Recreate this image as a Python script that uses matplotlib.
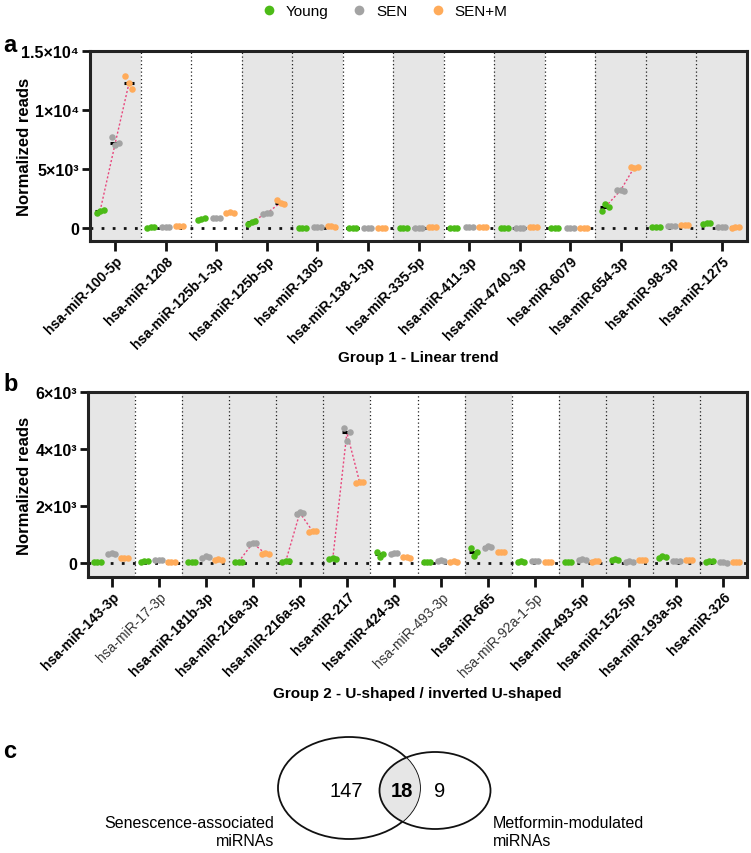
import numpy as np
import matplotlib
matplotlib.use("Agg")
import matplotlib.pyplot as plt
from matplotlib.lines import Line2D
from matplotlib.patches import Ellipse

plt.rcParams['font.family'] = ['Liberation Sans', 'DejaVu Sans']

# groups and colours
groups = ['Young', 'SEN', 'SEN+M']
group_colors = ['#4cbb17', '#a3a3a3', '#ffab5a']

# Panel a - Group 1 (linear trend), replicates per group (Young, SEN, SEN+M)
mirs_a = ['hsa-miR-100-5p', 'hsa-miR-1208', 'hsa-miR-125b-1-3p', 'hsa-miR-125b-5p',
          'hsa-miR-1305', 'hsa-miR-138-1-3p', 'hsa-miR-335-5p', 'hsa-miR-411-3p',
          'hsa-miR-4740-3p', 'hsa-miR-6079', 'hsa-miR-654-3p', 'hsa-miR-98-3p',
          'hsa-miR-1275']
young_a = [[1250, 1450, 1500], [40, 60, 50], [700, 800, 820], [350, 550, 600],
           [20, 30, 25], [15, 20, 25], [15, 20, 25], [30, 25, 35],
           [25, 20, 30], [10, 15, 12], [1450, 2050, 1800], [70, 90, 80],
           [380, 400, 420]]
sen_a = [[7700, 7000, 7200], [90, 110, 100], [860, 880, 850], [1200, 1300, 1250],
         [60, 80, 70], [30, 40, 35], [30, 35, 25], [50, 60, 45],
         [30, 35, 40], [20, 15, 25], [3200, 3250, 3150], [140, 160, 150],
         [90, 100, 80]]
senm_a = [[12850, 12250, 11800], [180, 200, 160], [1300, 1320, 1280], [2400, 2150, 2050],
          [130, 150, 120], [30, 35, 40], [60, 80, 70], [90, 110, 100],
          [70, 60, 80], [20, 25, 15], [5200, 5050, 5150], [240, 260, 220],
          [40, 50, 45]]
shaded_a = [1, 0, 0, 1, 1, 0, 1, 0, 1, 0, 1, 1, 1]
trend_a = [0, 3, 10]
bold_a = [1] * 13
yticks_a = [0, 5000, 10000, 15000]
yticklabels_a = ['0', '5×10³', '1×10⁴', '1.5×10⁴']

# Panel b - Group 2 (U-shaped / inverted U-shaped)
mirs_b = ['hsa-miR-143-3p', 'hsa-miR-17-3p', 'hsa-miR-181b-3p', 'hsa-miR-216a-3p',
          'hsa-miR-216a-5p', 'hsa-miR-217', 'hsa-miR-424-3p', 'hsa-miR-493-3p',
          'hsa-miR-665', 'hsa-miR-92a-1-5p', 'hsa-miR-493-5p', 'hsa-miR-152-5p',
          'hsa-miR-193a-5p', 'hsa-miR-326']
young_b = [[30, 40, 35], [50, 60, 55], [30, 35, 25], [40, 50, 45],
           [50, 60, 55], [140, 160, 150], [400, 200, 330], [40, 50, 45],
           [520, 250, 390], [50, 55, 45], [40, 50, 45], [100, 130, 115],
           [180, 230, 200], [50, 60, 55]]
sen_b = [[300, 350, 330], [90, 110, 100], [190, 230, 210], [680, 720, 700],
         [1730, 1780, 1760], [4740, 4270, 4580], [330, 350, 340], [80, 90, 85],
         [540, 580, 560], [60, 65, 55], [120, 130, 110], [50, 55, 45],
         [70, 80, 75], [20, 25, 15]]
senm_b = [[170, 190, 180], [40, 50, 45], [110, 130, 120], [320, 340, 330],
          [1100, 1130, 1120], [2820, 2860, 2840], [200, 210, 190], [45, 55, 50],
          [370, 390, 380], [30, 35, 25], [50, 60, 55], [90, 100, 95],
          [110, 120, 115], [40, 45, 35]]
shaded_b = [1, 0, 1, 1, 1, 1, 0, 0, 1, 0, 1, 1, 1, 1]
trend_b = [3, 4, 5]
bold_b = [1, 0, 1, 1, 1, 1, 1, 0, 1, 0, 1, 1, 1, 1]
yticks_b = [0, 2000, 4000, 6000]
yticklabels_b = ['0', '2×10³', '4×10³', '6×10³']

# Panel c - Venn counts
venn_counts = [147, 18, 9]
venn_labels = ['Senescence-associated\nmiRNAs', 'Metformin-modulated\nmiRNAs']

W, H = 751, 854
fig = plt.figure(figsize=(W / 100, H / 100), dpi=100)


def px_axes(left, top, right, bottom):
    return fig.add_axes([left / W, 1 - bottom / H, (right - left) / W, (bottom - top) / H])


def draw_panel(ax, mirs, young, sen, senm, shaded, trend, bold, ylim, yticks, yticklabels,
               xlabel, ylab_x, xlab_y):
    n = len(mirs)
    offs = [-0.3, 0.0, 0.27]
    jit = np.array([-0.07, 0.0, 0.07])
    for i in range(n):
        if shaded[i]:
            ax.axvspan(i - 0.5, i + 0.5, color='#e6e6e6', lw=0, zorder=0)
        if i > 0:
            ax.axvline(i - 0.5, color='#222222', lw=0.9, ls=(0, (1, 2)), zorder=1)
    ax.axhline(0, color='#111111', lw=2, ls=(0, (1, 3)), zorder=1)

    for i in range(n):
        data = [young[i], sen[i], senm[i]]
        meds = [np.median(d) for d in data]
        if i in trend:
            ax.plot([i + o for o in offs], meds, color='#e8467c', lw=1.0,
                    ls=(0, (1.5, 1.5)), zorder=2)
        for g, d in enumerate(data):
            x = i + offs[g]
            ax.plot([x - 0.1, x + 0.1], [meds[g]] * 2, color='black', lw=2.2,
                    solid_capstyle='butt', zorder=3)
            ax.scatter(x + jit, d, s=22, color=group_colors[g], lw=0, zorder=4)

    ax.set_xlim(-0.5, n - 0.5)
    ax.set_ylim(*ylim)
    ax.set_yticks(yticks)
    ax.set_yticklabels(yticklabels, fontsize=11.5, fontweight='bold')
    ax.set_xticks(range(n))
    ax.set_xticklabels(mirs, rotation=45, ha='right', va='top', rotation_mode='anchor',
                       fontsize=10)
    for lab, b in zip(ax.get_xticklabels(), bold):
        lab.set_fontweight('bold' if b else 'normal')
        if not b:
            lab.set_color('#333333')
    ax.tick_params(axis='both', direction='out', width=2, color='#111111')
    ax.tick_params(axis='x', length=7, pad=2)
    ax.tick_params(axis='y', length=6, pad=2)
    for sp in ax.spines.values():
        sp.set_linewidth(2.2)
        sp.set_color('#222222')
    ax.set_ylabel('Normalized reads', fontsize=12, fontweight='bold', va='center')
    ax.yaxis.set_label_coords(ylab_x, 0.5)
    ax.set_xlabel(xlabel, fontsize=11, fontweight='bold', va='center')
    ax.xaxis.set_label_coords(0.5, xlab_y)


ax_a = px_axes(90, 52, 747, 242)
draw_panel(ax_a, mirs_a, young_a, sen_a, senm_a, shaded_a, trend_a, bold_a,
           (-1100, 15000), yticks_a, yticklabels_a, 'Group 1 - Linear trend',
           (25 - 90) / 657, (242 - 358) / 190)

ax_b = px_axes(88, 393, 747, 578)
draw_panel(ax_b, mirs_b, young_b, sen_b, senm_b, shaded_b, trend_b, bold_b,
           (-490, 6000), yticks_b, yticklabels_b, 'Group 2 - U-shaped / inverted U-shaped',
           (25 - 88) / 659, (578 - 694) / 185)

# legend
handles = [Line2D([], [], marker='o', ls='', color=c, markersize=7, markeredgewidth=0)
           for c in group_colors]
fig.legend(handles, groups, loc='upper center', bbox_to_anchor=(0.507, 1.01), ncol=3,
           frameon=False, fontsize=11, handletextpad=0.1, columnspacing=1.0)

# overlay in pixel coordinates for letters and venn
ov = fig.add_axes([0, 0, 1, 1])
ov.set_xlim(0, W)
ov.set_ylim(H, 0)
ov.axis('off')

for letter, (x, y) in zip(['a', 'b', 'c'], [(3, 45), (3, 385), (3, 752)]):
    ov.text(x, y, letter, fontsize=17, fontweight='bold', ha='left', va='center')

left_e = Ellipse((349, 789), 142, 102, fill=False, ec='#111111', lw=1.3)
right_e = Ellipse((435, 791.5), 111, 77, fill=False, ec='#111111', lw=1.3)
lens = Ellipse((435, 791.5), 111, 77, fc='#e6e6e6', ec='none')
ov.add_patch(left_e)
ov.add_patch(lens)
lens.set_clip_path(left_e)
ov.add_patch(right_e)

ov.text(346, 792, str(venn_counts[0]), fontsize=14.5, ha='center', va='center')
ov.text(402, 792, str(venn_counts[1]), fontsize=14.5, fontweight='bold', ha='center', va='center')
ov.text(440, 792, str(venn_counts[2]), fontsize=14.5, ha='center', va='center')
ov.text(274, 833, venn_labels[0], fontsize=11.5, ha='right', va='center', linespacing=1.25)
ov.text(493, 833, venn_labels[1], fontsize=11.5, ha='left', va='center', linespacing=1.25)

fig.savefig('out.png', dpi=100)
